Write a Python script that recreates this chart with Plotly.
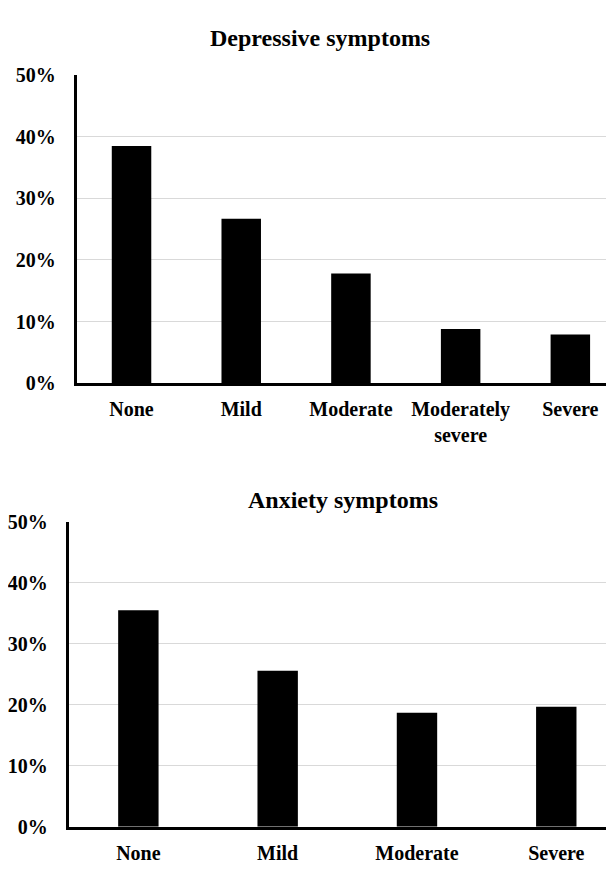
import plotly.graph_objects as go

dep_categories = ["None", "Mild", "Moderate", "Moderately<br>severe", "Severe"]
dep_values = [38.5, 26.7, 17.8, 8.8, 7.9]

anx_categories = ["None", "Mild", "Moderate", "Severe"]
anx_values = [35.5, 25.6, 18.7, 19.7]

y_ticks = [0, 10, 20, 30, 40, 50]
y_ticktext = [f"{v}%" for v in y_ticks]

# The page body has an 8px default margin, so the figure is 8px smaller
OFF = 8
W, H = 614 - OFF, 870 - OFF
FONT = "Liberation Serif, Times New Roman, serif"


def px_x(x):
    return (x - OFF) / W


def px_y(y):
    return 1 - (y - OFF) / H


fig = go.Figure()
fig.add_trace(go.Bar(x=list(range(len(dep_categories))), y=dep_values, marker_color="black",
                     marker_line_width=0, width=0.36, xaxis="x", yaxis="y"))
fig.add_trace(go.Bar(x=list(range(len(anx_categories))), y=anx_values, marker_color="black",
                     marker_line_width=0, width=0.29, xaxis="x2", yaxis="y2"))

tick_font = dict(family=FONT, size=20, color="black", weight="bold")

xcommon = dict(showline=True, linecolor="black", linewidth=3, showgrid=False, ticks="",
               tickfont=tick_font, zeroline=False, fixedrange=True, ticklabelstandoff=6)
ycommon = dict(showline=True, linecolor="black", linewidth=3, showgrid=True, gridcolor="#d9d9d9",
               gridwidth=1, ticks="", tickfont=tick_font, zeroline=False, range=[0, 50],
               tickvals=y_ticks, ticktext=y_ticktext, ticklabelstandoff=14)

fig.update_layout(
    width=W, height=H, margin=dict(l=0, r=0, t=0, b=0),
    paper_bgcolor="white", plot_bgcolor="white", showlegend=False,
    xaxis=dict(xcommon, domain=[px_x(74), 1], anchor="y",
               range=[-0.5, -0.5 + (614 - 74) / 110.25],
               tickvals=list(range(len(dep_categories))), ticktext=dep_categories),
    yaxis=dict(ycommon, domain=[px_y(381.7), px_y(65.7)], anchor="x"),
    xaxis2=dict(xcommon, domain=[px_x(66), 1], anchor="y2",
                range=[-0.5, -0.5 + (614 - 66) / 140],
                tickvals=list(range(len(anx_categories))), ticktext=anx_categories),
    yaxis2=dict(ycommon, domain=[px_y(837), px_y(524)], anchor="x2"),
    annotations=[
        dict(text="Depressive symptoms", x=px_x(319), y=px_y(28), xref="paper", yref="paper",
             showarrow=False, xanchor="center", yanchor="middle",
             font=dict(family=FONT, size=24, color="black", weight="bold")),
        dict(text="Anxiety symptoms", x=px_x(342), y=px_y(501.7), xref="paper", yref="paper",
             showarrow=False, xanchor="center", yanchor="middle",
             font=dict(family=FONT, size=24, color="black", weight="bold")),
    ],
)

fig.write_html("out.html", config={"displayModeBar": False})
